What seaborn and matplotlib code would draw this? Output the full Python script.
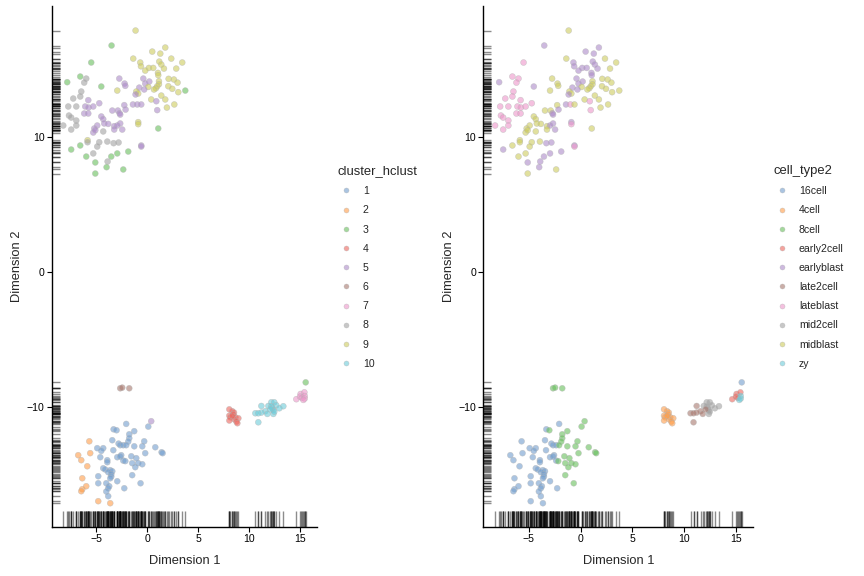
import matplotlib
matplotlib.use("Agg")
import matplotlib.pyplot as plt
from matplotlib.lines import Line2D
import pandas as pd
import seaborn as sns

# ---------------- data ----------------
# top group (blastocyst cells)
top_x = [-1.15, -3.51, 1.77, 0.49, 1.28, -1.38, 2.36, -0.69, -5.51, 3.44,
         -0.62, 0.16, 0.59, 1.18, 1.38, 1.64, 2.85, -0.20, 1.05, 1.08,
         -6.59, -6.00, -2.75, -0.39, 2.10, 2.62, -6.20, -7.87, 0.20, 1.15,
         2.98, -2.23, -0.20, -2.16, -4.52, 1.15, 0.98, 2.07, 0.10, -0.79,
         0.85, 0.66, 2.46, -0.30, -2.95, 3.74, -6.49, -1.08, 3.05, -0.89,
         -1.15, 1.38, -6.59, -7.28, 0.39, 1.77, -5.80, 0.89, -4.72, -2.26,
         -1.41, -0.98, -0.59, 2.66, -7.77, -6.98, -6.10, -5.77, -5.31, 1.93,
         -2.13, -3.44, -2.89, 0.98, -2.72, -2.66, -6.20, -5.80, -7.70, -7.48,
         -4.52, -4.33, -6.98, -0.89, -0.89, -4.23, -3.84, -2.66, -4.92, -6.98,
         -8.26, -3.25, -2.95, -5.21, 1.08, -2.46, -3.25, -7.48, -5.31, -5.11,
         -4.33, -5.87, -5.87, -4.72, -3.93, -3.31, -2.82, -0.59, -0.59, -6.59,
         -7.48, -4.92, -1.87, -2.95, -5.31, -6.00, -3.54, -3.90, -5.11, -4.00,
         -2.36, -5.11]
top_y = [17.88, 16.77, 16.62, 16.32, 16.17, 15.80, 15.80, 15.51, 15.51, 15.51,
         15.23, 15.11, 15.11, 15.58, 15.36, 15.06, 15.06, 14.91, 14.74, 14.57,
         14.47, 14.32, 14.32, 14.32, 14.30, 14.25, 14.02, 14.05, 14.10, 14.12,
         14.02, 13.95, 13.95, 13.78, 13.73, 13.90, 13.75, 13.75, 13.70, 13.65,
         13.60, 13.51, 13.56, 13.51, 13.43, 13.43, 13.36, 13.36, 13.31, 13.21,
         13.14, 13.06, 12.99, 12.84, 12.77, 12.77, 12.72, 12.64, 12.49, 12.35,
         12.40, 12.40, 12.40, 12.40, 12.25, 12.25, 12.25, 12.17, 12.25, 12.17,
         12.02, 11.95, 11.95, 11.98, 11.75, 11.65, 11.73, 11.73, 11.58, 11.43,
         11.51, 11.31, 11.21, 11.09, 10.94, 10.99, 10.96, 10.99, 10.84, 10.84,
         10.84, 10.79, 10.84, 10.62, 10.62, 10.54, 10.54, 10.54, 10.32, 10.49,
         10.40, 9.75, 9.60, 9.60, 9.65, 9.53, 9.58, 9.36, 9.28, 9.36,
         9.06, 9.28, 8.91, 8.77, 8.77, 8.54, 8.54, 8.17, 8.10, 7.75,
         7.58, 7.28]
top_cluster = [9, 3, 9, 9, 9, 9, 9, 9, 3, 9,
               9, 9, 9, 9, 9, 9, 9, 9, 9, 9,
               3, 8, 5, 5, 9, 9, 8, 3, 5, 9,
               9, 5, 5, 5, 3, 9, 9, 9, 9, 5,
               9, 9, 9, 5, 9, 3, 8, 9, 9, 9,
               5, 9, 8, 8, 9, 9, 5, 5, 5, 5,
               5, 5, 5, 9, 8, 8, 5, 5, 5, 9,
               5, 5, 5, 5, 5, 5, 5, 5, 8, 8,
               5, 5, 8, 9, 9, 5, 5, 5, 5, 8,
               8, 5, 5, 5, 3, 5, 5, 8, 5, 5,
               8, 9, 8, 8, 8, 8, 8, 5, 5, 3,
               3, 8, 3, 3, 8, 3, 3, 8, 3, 3,
               3, 3]
# M = midblast, E = earlyblast, L = lateblast
top_type = ("MEEEEMMELM" "EEEEEEMEEE" "LLMEMMLEEM" "MMEMEMMMME"
            "MMMEMMLMMM" "EMLLMMLLLM" "ELMMLLLLLM" "EMMLEELLLL"
            "MMLELMMEML" "LMEMMEMLMM" "MMMMMEEELM" "EMEEMMEEEE" "MM")

# bottom-left group (16-cell and 8-cell)
bottom_x = [-2.66, -2.46, -1.77, 0.39,
            -2.07, 0.10, -3.31, -3.02, -1.28,
            -1.77, -1.77, -3.44, -1.87, -0.30,
            -2.82, -2.66, -2.36, -2.07, -1.28,
            -0.49, -4.92, -4.33, -3.34, -4.52,
            0.79, -0.20, 1.41, 1.51, -2.56,
            -2.95, -1.57, -1.08, -4.62, -3.93,
            -3.93, -2.66, -2.36, -2.16, -1.48,
            -0.89, -0.49, -1.18, -4.33, -4.13,
            -3.64, -3.44, -3.84, -3.54, -3.54,
            -4.82, -1.48, -3.64, -2.95, -4.82,
            -4.03, -0.66, -3.74, -3.84, -2.26,
            -4.03, -3.84,
            -5.70, -5.61, -6.79, -6.49, -5.90, -6.39, -6.00, -6.39, -6.49,
            -4.82, -3.64]
bottom_y = [-8.64, -8.59, -8.64, -11.08,
            -11.28, -11.48, -11.68, -11.75, -11.82,
            -12.05, -12.34, -12.49, -12.59, -12.57,
            -12.74, -12.86, -12.86, -12.86, -12.94,
            -12.94, -13.08, -13.08, -13.23, -13.28,
            -13.01, -13.45, -13.38, -13.45, -13.60,
            -13.75, -13.68, -13.82, -13.75, -13.97,
            -14.12, -13.70, -14.00, -14.04, -14.19,
            -14.19, -14.27, -14.49, -14.57, -14.66,
            -14.71, -14.79, -14.86, -15.01, -15.18,
            -15.16, -15.08, -15.31, -15.53, -15.68,
            -15.68, -15.68, -15.90, -16.05, -16.05,
            -16.29, -16.64,
            -12.57, -13.45, -13.60, -13.97, -14.42, -15.31, -15.90, -16.12, -16.27,
            -17.01, -17.16]
bottom_cluster = [6, 6, 6, 5] + [1] * 57 + [2] * 11
# S = 16cell, G = 8cell
bottom_type = ("GGGG" "SGSGG" "GGSGG" "SSSGG" "GSSSS" "GGGGS"
               "SGGSS" "SSSGG" "GGGSS" "SSSSS" "SGSSS" "SGSSS" "SS"
               "SSSSSSSSS" "SS")

# right-hand group (2-cell, 4-cell, zygote)
right_x = [8.07, 8.36, 8.53, 8.46, 8.07, 8.17, 8.67, 8.96, 8.56, 8.07, 8.77, 8.86, 8.36,
           11.22, 11.91, 12.20, 12.49, 12.69, 13.38, 12.99, 12.30, 11.61, 12.40,
           11.22, 10.63, 10.92, 11.81, 12.40, 12.49, 10.92, 12.20, 12.10,
           14.66, 15.08, 15.45, 15.02, 15.21, 15.48, 15.48, 15.35,
           15.58]
right_y = [-10.20, -10.34, -10.44, -10.57, -10.67, -10.79, -10.79, -10.86, -10.94, -11.03,
           -11.11, -11.23, -10.69,
           -9.95, -9.95, -9.68, -9.68, -9.90, -9.97, -10.12, -10.12, -10.34, -10.25,
           -10.44, -10.49, -10.49, -10.54, -10.54, -10.37, -11.16, -9.99, -10.20,
           -9.45, -9.06, -8.94, -9.26, -9.35, -9.21, -9.40, -9.50,
           -8.20]
right_cluster = [4] * 13 + [10] * 19 + [7] * 8 + [3]
# F = 4cell, T = late2cell, D = mid2cell, R = early2cell, Z = zy, S = 16cell
right_type = ("FFFFFFFFFFFFF" "TDDDDDDDTD" "TTTTDDTDT" "RRRRRZZZ" "S")

type_names = {"M": "midblast", "E": "earlyblast", "L": "lateblast",
              "S": "16cell", "G": "8cell", "F": "4cell", "T": "late2cell",
              "D": "mid2cell", "R": "early2cell", "Z": "zy"}

cluster_levels = [str(i) for i in range(1, 11)]
cell_type_levels = ["16cell", "4cell", "8cell", "early2cell", "earlyblast",
                    "late2cell", "lateblast", "mid2cell", "midblast", "zy"]
palette_colors = ["#729ECE", "#FF9E4A", "#67BF5C", "#ED665D", "#AD8BC9",
                  "#A8786E", "#ED97CA", "#A2A2A2", "#CDCC5D", "#6DCCDA"]

# ---------------- build table ----------------
dim1 = top_x + bottom_x + right_x
dim2 = top_y + bottom_y + right_y
cluster_hclust = [str(c) for c in top_cluster + bottom_cluster + right_cluster]
cell_type2 = [type_names[c] for c in top_type + bottom_type + right_type]
df = pd.DataFrame({"Dimension 1": dim1, "Dimension 2": dim2,
                   "cluster_hclust": cluster_hclust, "cell_type2": cell_type2})

sns.set_style("ticks")
plt.rcParams["font.family"] = ["Liberation Sans", "DejaVu Sans"]

fig = plt.figure(figsize=(8.64, 5.76), dpi=100)
ax1 = fig.add_axes([0.0598, 0.0856, 0.3072, 0.904])
ax2 = fig.add_axes([0.5594, 0.0856, 0.3125, 0.904])

panels = [(ax1, "cluster_hclust", cluster_levels, 337 / 864),
          (ax2, "cell_type2", cell_type_levels, 773 / 864)]

for ax, hue, levels, leg_x in panels:
    pal = dict(zip(levels, palette_colors))
    sns.scatterplot(data=df, x="Dimension 1", y="Dimension 2", hue=hue,
                    hue_order=levels, palette=pal, s=18, alpha=0.6,
                    edgecolor="#b3b3b3", linewidth=0.4, legend=False, ax=ax,
                    zorder=3)
    sns.rugplot(data=df, x="Dimension 1", height=0.03, color="black",
                alpha=0.45, lw=0.75, ax=ax)
    sns.rugplot(data=df, y="Dimension 2", height=0.03, color="black",
                alpha=0.45, lw=0.75, ax=ax)
    ax.set_xlim(-9.4, 16.7)
    ax.set_ylim(-18.9, 19.7)
    ax.set_xticks([-5, 0, 5, 10, 15])
    ax.set_yticks([-10, 0, 10])
    sns.despine(ax=ax)
    for sp in ("left", "bottom"):
        ax.spines[sp].set_linewidth(1.0)
        ax.spines[sp].set_color("black")
    ax.tick_params(length=3.6, width=0.8, labelsize=7.6, pad=1.5,
                   colors="black")
    ax.set_xlabel("Dimension 1", fontsize=9.3, labelpad=8)
    ax.set_ylabel("Dimension 2", fontsize=9.3, labelpad=2.5)

    handles = [Line2D([], [], marker="o", linestyle="", markersize=3.6,
                      markerfacecolor=c, markeredgecolor="#b3b3b3",
                      markeredgewidth=0.4, alpha=0.6)
               for c in palette_colors]
    ax.legend(handles, levels, title=hue, loc="upper left",
              bbox_to_anchor=(leg_x, 1 - 165 / 576),
              bbox_transform=fig.transFigure, frameon=False,
              fontsize=7.6, title_fontsize=9.4, alignment="left",
              handlelength=1.7, handletextpad=0.75, labelspacing=0.87,
              borderpad=0, borderaxespad=0)

fig.savefig("out.png", dpi=100)
